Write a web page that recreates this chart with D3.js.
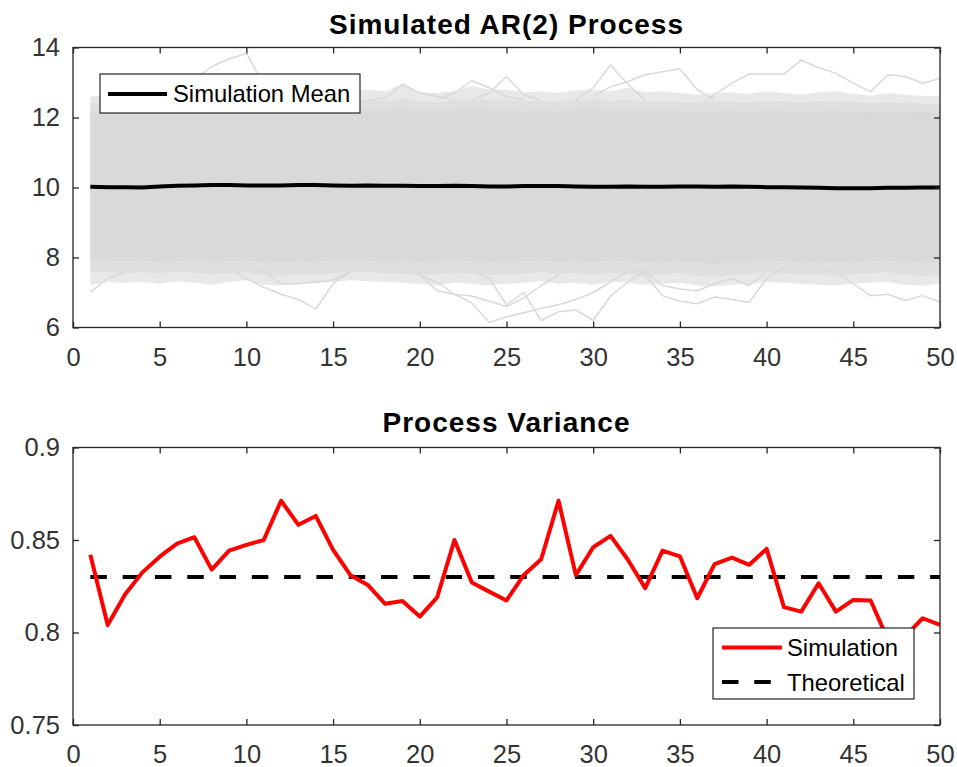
<!DOCTYPE html>
<html>
<head>
<meta charset="utf-8">
<script src="https://cdn.jsdelivr.net/npm/d3@7"></script>
<style>
  body { margin: 0; background: #fff; }
  svg { display: block; font-family: "Liberation Sans", Arial, sans-serif; }
  .tick text { fill: #333; }
</style>
</head>
<body>
<svg id="chart" width="957" height="767"></svg>
<script>
// ---- data ----
const steps = d3.range(1, 51);

// mean of the simulated paths
const simMean = [10.02,10.01,10.01,10.0,10.03,10.05,10.06,10.07,10.07,10.06,
                 10.06,10.06,10.07,10.07,10.06,10.05,10.06,10.05,10.05,10.04,
                 10.04,10.05,10.04,10.03,10.03,10.04,10.04,10.04,10.03,10.02,
                 10.02,10.03,10.02,10.02,10.03,10.03,10.02,10.03,10.02,10.01,
                 10.01,10.0,9.99,9.98,9.98,9.98,9.99,9.99,10.0,10.0];

// envelope of the dense grey bundle of paths (outer fringe, mid, solid core)
const outerHi = [12.6,12.62,12.65,12.6,12.68,12.62,12.66,12.7,12.65,12.72,12.68,12.64,12.72,12.75,12.7,12.78,12.8,12.74,12.95,12.72,
                 12.7,12.76,12.9,12.8,12.8,12.72,12.75,12.7,12.78,12.8,12.75,12.85,12.72,12.75,12.7,12.65,12.7,12.72,12.68,12.75,
                 12.7,12.66,12.72,12.75,12.68,12.62,12.7,12.65,12.62,12.6];
const midHi   = [12.42,12.4,12.45,12.42,12.44,12.4,12.45,12.48,12.42,12.46,12.44,12.4,12.46,12.5,12.45,12.48,12.5,12.46,12.55,12.45,
                 12.44,12.48,12.52,12.5,12.5,12.45,12.48,12.45,12.5,12.52,12.48,12.5,12.45,12.48,12.44,12.42,12.45,12.46,12.42,12.48,
                 12.45,12.42,12.46,12.48,12.44,12.4,12.44,12.42,12.4,12.38];
const coreHi  = [12.12,12.15,12.18,12.15,12.2,12.16,12.18,12.2,12.15,12.18,12.2,12.16,12.18,12.22,12.18,12.2,12.22,12.2,12.24,12.18,
                 12.2,12.22,12.25,12.22,12.2,12.18,12.2,12.18,12.22,12.24,12.2,12.22,12.18,12.2,12.18,12.15,12.18,12.2,12.16,12.2,
                 12.18,12.15,12.18,12.2,12.16,12.14,12.18,12.15,12.14,12.12];
const coreLo  = [7.95,7.92,7.9,7.92,7.88,7.9,7.92,7.88,7.9,7.92,7.88,7.86,7.9,7.88,7.92,7.95,7.92,7.88,7.9,7.86,
                 7.88,7.92,7.9,7.86,7.88,7.9,7.92,7.88,7.9,7.88,7.92,7.9,7.86,7.88,7.9,7.85,7.82,7.86,7.88,7.92,
                 7.9,7.88,7.86,7.85,7.88,7.9,7.92,7.88,7.86,7.85];
const midLo   = [7.58,7.6,7.55,7.58,7.55,7.6,7.56,7.52,7.55,7.58,7.5,7.48,7.52,7.5,7.55,7.6,7.58,7.55,7.55,7.5,
                 7.52,7.56,7.55,7.5,7.5,7.55,7.58,7.52,7.55,7.5,7.56,7.55,7.5,7.52,7.55,7.48,7.45,7.5,7.52,7.58,
                 7.55,7.52,7.5,7.48,7.52,7.55,7.58,7.5,7.48,7.5];
const outerLo = [7.2,7.3,7.28,7.3,7.25,7.32,7.28,7.22,7.3,7.35,7.22,7.2,7.25,7.28,7.3,7.35,7.32,7.3,7.28,7.25,
                 7.2,7.28,7.25,7.2,7.25,7.28,7.32,7.25,7.28,7.22,7.3,7.28,7.22,7.25,7.28,7.2,7.18,7.22,7.25,7.3,
                 7.28,7.25,7.22,7.2,7.25,7.28,7.3,7.22,7.2,7.25];

// single paths that stray out of the bundle (first step, values)
const strayPaths = [
  {t0: 5,  v: [12.5,12.8,13.1,13.45,13.68,13.83,12.95,12.5]},
  {t0: 17, v: [12.5,12.55,12.95,12.7,12.6,12.5]},
  {t0: 21, v: [12.5,12.7,13.05,12.85,12.6,12.5]},
  {t0: 23, v: [12.5,12.7,13.17,12.64,12.5]},
  {t0: 29, v: [12.5,12.85,13.5,12.95,12.5]},
  {t0: 30, v: [12.6,12.88,13.03,13.22,13.31,13.39,12.79,12.5]},
  {t0: 36, v: [12.3,12.65,12.98,13.24,13.24,13.24,13.64,13.42,13.26,12.98,12.74,13.22,13.17,12.98,13.12]},
  {t0: 1,  v: [7.01,7.4,7.6]},
  {t0: 9,  v: [7.7,7.4,7.15,6.95,6.8,6.53,7.25,7.6]},
  {t0: 10, v: [7.7,7.6,7.25,7.25,7.3,7.35,7.6]},
  {t0: 20, v: [7.5,7.3,6.95,6.7,6.15,6.3,6.42,6.55,6.65,6.8,7.0,7.3,7.6]},
  {t0: 23, v: [7.6,7.4,6.65,7.0,6.2,6.45,6.5,6.2,6.9,7.3,7.6]},
  {t0: 19, v: [7.6,7.5,7.05,6.95,6.9,6.75,6.6,6.85,7.2,7.5]},
  {t0: 32, v: [7.6,7.5,6.91,6.75,6.68,6.87,6.8,6.72,7.4,7.7]},
  {t0: 32, v: [7.7,7.6,7.2,7.1,7.05,7.25,7.4,7.2,7.6]},
  {t0: 43, v: [7.7,7.6,7.25,6.91,6.95,6.77,6.91,6.72]}
];

// sample variance per step and the theoretical value
const simVariance = [0.842,0.804,0.8205,0.8325,0.841,0.848,0.8515,0.834,0.8443,0.8474,
                     0.850,0.8712,0.8582,0.863,0.8447,0.831,0.8257,0.8155,0.817,0.8086,
                     0.819,0.850,0.827,0.8221,0.8173,0.8311,0.8396,0.8712,0.831,0.8461,
                     0.8522,0.8393,0.824,0.8443,0.8412,0.8185,0.837,0.8405,0.8366,0.8452,
                     0.8137,0.8113,0.8266,0.8113,0.8176,0.8173,0.796,0.798,0.8077,0.8041];
const theoreticalVar = 0.83;

const xTicks = [0,5,10,15,20,25,30,35,40,45,50];
const yTicksTop = [6,8,10,12,14];
const yTicksBot = [0.75,0.8,0.85,0.9];
const yTickLabelsBot = ["0.75","0.8","0.85","0.9"];

// ---- layout ----
const svg = d3.select('#chart');
const left = 73, right = 940;
const top1 = 47.5, bot1 = 327.5;
const top2 = 447.5, bot2 = 725;
const axisColor = '#262626';
const grey = '#d9d9d9';

const x = d3.scaleLinear().domain([0, 50]).range([left, right]);
const yTop = d3.scaleLinear().domain([6, 14]).range([bot1, top1]);
const yBot = d3.scaleLinear().domain([0.75, 0.9]).range([bot2, top2]);

function drawFrame(y, yTop_, yBottom, yTickVals, yFmt) {
  const g = svg.append('g');
  const w = right - left, h = yBottom - yTop_;

  const styleAxis = sel => {
    sel.select('.domain').remove();
    sel.selectAll('.tick line').attr('stroke', axisColor).attr('stroke-width', 1.3);
    sel.selectAll('.tick text').attr('font-size', 25.5).attr('font-family', '"Liberation Sans", Arial, sans-serif');
  };

  g.append('g').attr('transform', `translate(0,${yBottom})`)
    .call(d3.axisBottom(x).tickValues(xTicks).tickSizeInner(-6).tickSizeOuter(0).tickPadding(20).tickFormat(d3.format('d')))
    .call(styleAxis);
  g.append('g').attr('transform', `translate(0,${yTop_})`)
    .call(d3.axisTop(x).tickValues(xTicks).tickSizeInner(-6).tickSizeOuter(0).tickFormat(''))
    .call(styleAxis);
  g.append('g').attr('transform', `translate(${left},0)`)
    .call(d3.axisLeft(y).tickValues(yTickVals).tickSizeInner(-6).tickSizeOuter(0).tickPadding(13).tickFormat(yFmt))
    .call(styleAxis);
  g.append('g').attr('transform', `translate(${right},0)`)
    .call(d3.axisRight(y).tickValues(yTickVals).tickSizeInner(-6).tickSizeOuter(0).tickFormat(''))
    .call(styleAxis);

  g.append('rect')
    .attr('x', left).attr('y', yTop_).attr('width', w).attr('height', h)
    .attr('fill', 'none').attr('stroke', axisColor).attr('stroke-width', 1.3);
  return g;
}

// ---- top panel: simulated AR(2) paths ----
const plot1 = svg.append('g');
const band = (lo, hi) => d3.area().x((d, i) => x(steps[i])).y0((d, i) => yTop(lo[i])).y1((d, i) => yTop(hi[i]));

plot1.append('path').datum(steps).attr('d', band(outerLo, outerHi)).attr('fill', '#e8e8e8');
plot1.append('path').datum(steps).attr('d', band(midLo, midHi)).attr('fill', '#dfdfdf');
plot1.append('path').datum(steps).attr('d', band(coreLo, coreHi)).attr('fill', grey);

const strayLine = d3.line().x(d => x(d[0])).y(d => yTop(d[1]));
plot1.selectAll('.stray')
  .data(strayPaths)
  .join('path')
    .attr('class', 'stray')
    .attr('d', p => strayLine(p.v.map((v, i) => [p.t0 + i, v])))
    .attr('fill', 'none')
    .attr('stroke', grey)
    .attr('stroke-width', 1.5)
    .attr('stroke-linejoin', 'round');

plot1.append('path')
  .datum(simMean)
  .attr('d', d3.line().x((d, i) => x(steps[i])).y(d => yTop(d)))
  .attr('fill', 'none')
  .attr('stroke', '#000')
  .attr('stroke-width', 4)
  .attr('stroke-linejoin', 'round');

drawFrame(yTop, top1, bot1, yTicksTop, d3.format('d'));

// legend (top)
const leg1 = svg.append('g');
leg1.append('rect').attr('x', 100).attr('y', 74).attr('width', 260).attr('height', 39)
  .attr('fill', '#fff').attr('stroke', axisColor).attr('stroke-width', 1.2);
leg1.append('line').attr('x1', 108).attr('x2', 167).attr('y1', 94).attr('y2', 94)
  .attr('stroke', '#000').attr('stroke-width', 4);
leg1.append('text').attr('x', 173).attr('y', 102).attr('font-size', 23.8).attr('fill', '#000')
  .text('Simulation Mean');

svg.append('text')
  .attr('x', (left + right) / 2).attr('y', 34)
  .attr('text-anchor', 'middle')
  .attr('font-size', 28).attr('font-weight', 'bold').attr('letter-spacing', 1)
  .attr('fill', '#000')
  .text('Simulated AR(2) Process');

// ---- bottom panel: variance ----
const plot2 = svg.append('g');
plot2.append('path')
  .datum(steps)
  .attr('d', d3.line().x(d => x(d)).y(() => yBot(theoreticalVar)))
  .attr('fill', 'none')
  .attr('stroke', '#000')
  .attr('stroke-width', 4)
  .attr('stroke-dasharray', '16.5,15.8');

plot2.append('path')
  .datum(simVariance)
  .attr('d', d3.line().x((d, i) => x(steps[i])).y(d => yBot(d)))
  .attr('fill', 'none')
  .attr('stroke', '#ff0000')
  .attr('stroke-width', 4)
  .attr('stroke-linejoin', 'round');

drawFrame(yBot, top2, bot2, yTicksBot, (d, i) => yTickLabelsBot[i]);

// legend (bottom)
const leg2 = svg.append('g');
leg2.append('rect').attr('x', 713).attr('y', 628).attr('width', 201).attr('height', 71)
  .attr('fill', '#fff').attr('stroke', axisColor).attr('stroke-width', 1.2);
leg2.append('line').attr('x1', 722).attr('x2', 782).attr('y1', 647.5).attr('y2', 647.5)
  .attr('stroke', '#ff0000').attr('stroke-width', 4);
leg2.append('text').attr('x', 787).attr('y', 656).attr('font-size', 23.8).attr('fill', '#000')
  .text('Simulation');
leg2.append('line').attr('x1', 722).attr('x2', 782).attr('y1', 682).attr('y2', 682)
  .attr('stroke', '#000').attr('stroke-width', 4).attr('stroke-dasharray', '16.5,15.8');
leg2.append('text').attr('x', 787).attr('y', 690.5).attr('font-size', 23.8).attr('fill', '#000')
  .text('Theoretical');

svg.append('text')
  .attr('x', (left + right) / 2).attr('y', 432)
  .attr('text-anchor', 'middle')
  .attr('font-size', 28).attr('font-weight', 'bold').attr('letter-spacing', 1)
  .attr('fill', '#000')
  .text('Process Variance');
</script>
</body>
</html>
